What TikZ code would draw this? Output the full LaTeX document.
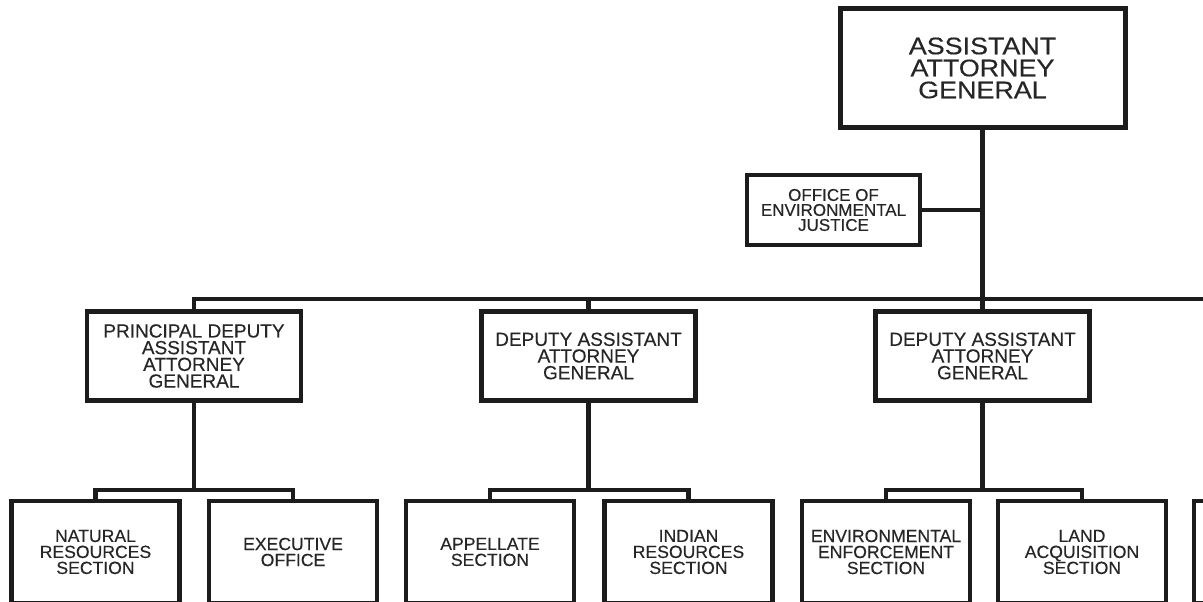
\documentclass[tikz,border=0pt]{standalone}
\usepackage{fontspec}
\setmainfont{Liberation Sans}[FakeBold=0.3]
\newfontfamily\wideface{Liberation Sans}[FakeStretch=1.12,FakeBold=0.3]
\definecolor{ink}{HTML}{1C1C1C}
\definecolor{txt}{HTML}{262626}
\begin{document}
\begin{tikzpicture}[x=1pt,y=-1pt,
  box/.style={draw=ink, line width=4.5pt, rectangle, inner sep=0pt, align=center, text=txt},
  topbox/.style={box, line width=5pt, minimum width=285pt, minimum height=119pt, font=\wideface\fontsize{24}{22}\selectfont},
  oejbox/.style={box, minimum width=173pt, minimum height=70pt, font=\fontsize{17}{15}\selectfont},
  midbox/.style={box, minimum width=214pt, minimum height=89pt, font=\fontsize{19}{16.7}\selectfont},
  lowbox/.style={box, minimum width=168pt, minimum height=102pt, font=\fontsize{17.6}{16}\selectfont},
  conn/.style={draw=ink, line width=4.5pt}
]
\useasboundingbox (0,0) rectangle (1203,602);
\clip (0,0) rectangle (1203,602);
\fill[white] (0,0) rectangle (1203,602);

% nodes
\node[topbox] (aag) at (982.5,68) {ASSISTANT\\ATTORNEY\\GENERAL};
\node[oejbox] (oej) at (833.5,210) {OFFICE OF\\ENVIRONMENTAL\\JUSTICE};

\node[midbox] (pdaag) at (194,356) {PRINCIPAL DEPUTY\\ASSISTANT\\ATTORNEY\\GENERAL};
\node[midbox] (daagA) at (588.5,356) {DEPUTY ASSISTANT\\ATTORNEY\\GENERAL};
\node[midbox] (daagB) at (982.5,356) {DEPUTY ASSISTANT\\ATTORNEY\\GENERAL};

\node[lowbox] (nat) at (95.5,552) {NATURAL\\RESOURCES\\SECTION};
\node[lowbox] (exe) at (293,552) {EXECUTIVE\\OFFICE};
\node[lowbox] (app) at (490,552) {APPELLATE\\SECTION};
\node[lowbox] (ind) at (688.5,552) {INDIAN\\RESOURCES\\SECTION};
\node[lowbox] (env) at (886,552) {ENVIRONMENTAL\\ENFORCEMENT\\SECTION};
\node[lowbox] (land) at (1082,552) {LAND\\ACQUISITION\\SECTION};
\node[lowbox] (next) at (1278,552) {};

% bus coordinates
\coordinate (busR) at (1230,299);
\coordinate (s1) at (194,490);
\coordinate (s2) at (588.5,490);
\coordinate (s3) at (982.5,490);

% connectors
\draw[conn] (aag.south) -- (daagB.north);
\draw[conn] (oej.east) -- (oej.east -| aag.south);
\draw[conn] (pdaag.north) |- (busR);
\draw[conn] (daagA.north) -- (daagA.north |- busR);

\draw[conn] (pdaag.south) -- (s1);
\draw[conn] (nat.north) |- (exe.north |- s1) -- (exe.north);
\draw[conn] (daagA.south) -- (s2);
\draw[conn] (app.north) |- (ind.north |- s2) -- (ind.north);
\draw[conn] (daagB.south) -- (s3);
\draw[conn] (env.north) |- (land.north |- s3) -- (land.north);
\end{tikzpicture}
\end{document}
